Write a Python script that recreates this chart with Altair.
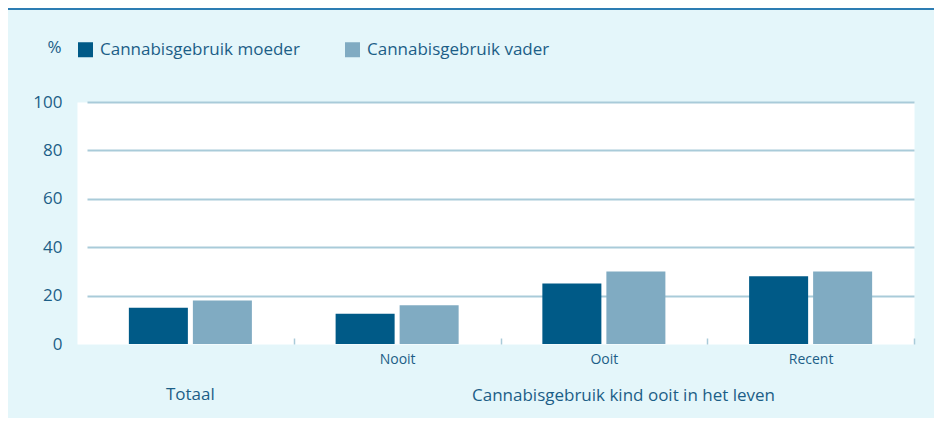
import altair as alt
import pandas as pd

groups = ["Totaal", "Nooit", "Ooit", "Recent"]
inner_groups = ["Nooit", "Ooit", "Recent"]
series = ["Cannabisgebruik moeder", "Cannabisgebruik vader"]
moeder = [15, 12.5, 25, 28]
vader = [18, 16, 30, 30]
y_ticks = [0, 20, 40, 60, 80, 100]
colors = ["#005a87", "#80abc2"]
x_title = "Cannabisgebruik kind ooit in het leven"
y_title = "%"
outer_label = ["Totaal"]

rows = []
for g, m, v in zip(groups, moeder, vader):
    rows.append({"groep": g, "reeks": series[0], "waarde": m})
    rows.append({"groep": g, "reeks": series[1], "waarde": v})
df = pd.DataFrame(rows)

TEXT = "#1c5e87"
GRID = "#a9cbd9"
FONT = "Open Sans"

xscale = alt.Scale(domain=groups, range=[10, 837], paddingInner=0, paddingOuter=0)

bars = alt.Chart(df).mark_bar().encode(
    x=alt.X(
        "groep:N",
        sort=groups,
        scale=xscale,
        axis=alt.Axis(
            title=x_title,
            values=inner_groups,
            labelAngle=0,
            labelFont=FONT,
            labelFontSize=14,
            labelColor=TEXT,
            labelBaseline="middle",
            labelPadding=15,
            ticks=True,
            tickColor=GRID,
            tickSize=6,
            tickWidth=1.5,
            tickBand="extent",
            domain=False,
            grid=False,
            offset=-6,
            titleX=546,
            titleY=57,
            titleAlign="center",
            titleBaseline="middle",
            titleFont=FONT,
            titleFontSize=17,
            titleFontWeight="normal",
            titleColor=TEXT,
        ),
    ),
    xOffset=alt.XOffset(
        "reeks:N", sort=series,
        scale=alt.Scale(domain=series, paddingInner=0.078, paddingOuter=0.654),
    ),
    y=alt.Y(
        "waarde:Q",
        scale=alt.Scale(domain=[0, 100]),
        axis=alt.Axis(
            values=y_ticks,
            title=y_title,
            titleAngle=0,
            titleX=-23,
            titleY=-55,
            titleAlign="center",
            titleBaseline="middle",
            titleFont=FONT,
            titleFontSize=17,
            titleFontWeight="normal",
            titleColor=TEXT,
            labelFont=FONT,
            labelFontSize=17,
            labelColor=TEXT,
            labelPadding=15,
            ticks=False,
            domain=False,
            grid=True,
            gridColor=alt.condition("datum.value === 0", alt.value("transparent"), alt.value(GRID)),
            gridWidth=2,
        ),
    ),
    color=alt.Color(
        "reeks:N",
        sort=series,
        scale=alt.Scale(domain=series, range=colors),
        legend=alt.Legend(
            title=None,
            orient="none",
            legendX=0,
            legendY=-61,
            direction="horizontal",
            symbolType="square",
            symbolSize=225,
            symbolStrokeWidth=0,
            symbolOpacity=1,
            labelFont=FONT,
            labelFontSize=17,
            labelColor=TEXT,
            labelOffset=6,
            labelLimit=400,
            columnPadding=44,
            padding=0,
        ),
    ),
)

totaal = alt.Chart(pd.DataFrame({"groep": outer_label})).mark_text(
    font=FONT, fontSize=17, color=TEXT, baseline="middle", align="center"
).encode(
    x=alt.X("groep:N", sort=groups, scale=xscale),
    y=alt.value(293),
    text="groep:N",
)

topline = alt.Chart(pd.DataFrame({"a": [0]})).mark_rule(
    color="#2d7db3", strokeWidth=2
).encode(
    x=alt.value(-69), x2=alt.value(857), y=alt.value(-93)
)

chart = alt.layer(bars, totaal, topline).properties(
    width=837,
    height=242,
    background="#e4f6fa",
    padding={"left": 69, "top": 94, "right": 20, "bottom": 74},
    autosize=alt.AutoSizeParams(type="none"),
).configure_view(fill="white", stroke="transparent")

chart.save("out.html", embed_options={"renderer": "svg", "actions": False})
